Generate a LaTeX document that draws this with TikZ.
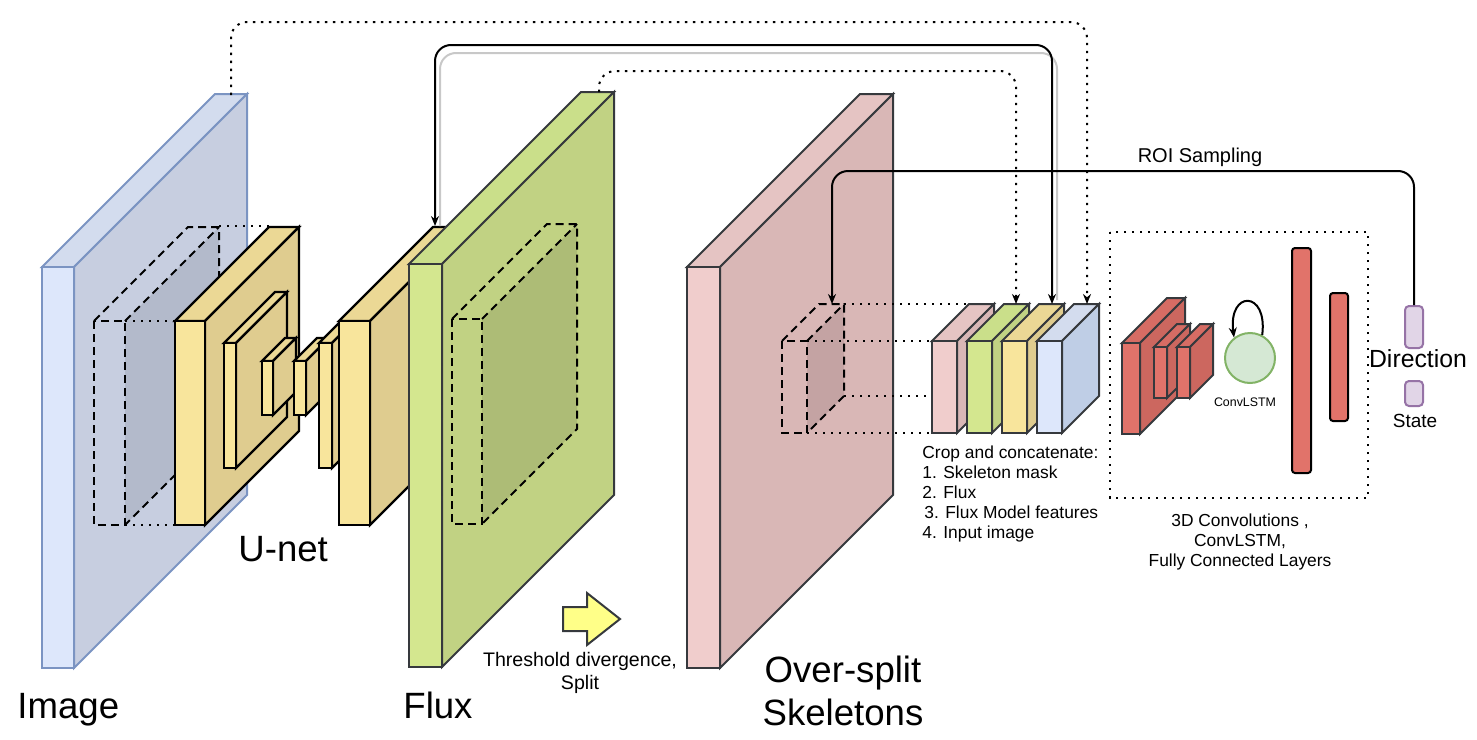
\documentclass[tikz,border=0pt]{standalone}
\usepackage{fontspec}
\setmainfont{Liberation Sans}
\usetikzlibrary{arrows.meta}
\usepackage{xcolor}

\definecolor{imgfront}{HTML}{DDE7FB}
\definecolor{imgside}{HTML}{C7CEE0}
\definecolor{imgtop}{HTML}{D3DCEE}
\definecolor{imgcrop}{HTML}{B3BACB}
\definecolor{imgstroke}{HTML}{7B94C2}
\definecolor{unetfront}{HTML}{F8E59C}
\definecolor{unetside}{HTML}{DFCC8F}
\definecolor{unettop}{HTML}{EBD895}
\definecolor{fluxfront}{HTML}{D4E78F}
\definecolor{fluxside}{HTML}{C1D283}
\definecolor{fluxtop}{HTML}{CADF8A}
\definecolor{fluxcrop}{HTML}{ADBC76}
\definecolor{skelfront}{HTML}{F0CDCC}
\definecolor{skelside}{HTML}{D9B7B6}
\definecolor{skeltop}{HTML}{E5C4C3}
\definecolor{skelcrop}{HTML}{C4A3A3}
\definecolor{cropblueside}{HTML}{BFCEE6}
\definecolor{convfront}{HTML}{E1736A}
\definecolor{convside}{HTML}{CC675F}
\definecolor{convtop}{HTML}{D66C64}
\definecolor{lstmfill}{HTML}{D5E8D4}
\definecolor{lstmstroke}{HTML}{82B366}
\definecolor{outfill}{HTML}{E1D5E7}
\definecolor{outstroke}{HTML}{9673A6}
\definecolor{darkstroke}{HTML}{36393D}
\definecolor{arrowyellow}{HTML}{FFFF88}
\definecolor{shadowgray}{HTML}{C8C8C8}

% layer block: [stroke]{x}{y}{width}{height}{depth}{front}{side}{top}
\newcommand{\layerblock}[9][]{%
  \draw[#1, fill=#9] (#2,#3) -- ++(#6,-#6) -- ++(#4,0) -- ++(-#6,#6) -- cycle;
  \draw[#1, fill=#8] (#2+#4,#3) -- ++(#6,-#6) -- ++(0,#5) -- ++(-#6,#6) -- cycle;
  \draw[#1, fill=#7] (#2,#3) rectangle ++(#4,#5);
}
% dashed crop frame: {x}{y}{width}{height}{depth}{side}
\newcommand{\cropframe}[6]{%
  \fill[#6] (#1+#3,#2) -- ++(#5,-#5) -- ++(0,#4) -- ++(-#5,#5) -- cycle;
  \draw[dashline] (#1,#2) rectangle ++(#3,#4);
  \draw[dashline] (#1,#2) -- ++(#5,-#5) -- ++(#3,0) -- ++(0,#4) -- ++(-#5,#5);
  \draw[dashline] (#1+#3,#2) -- ++(#5,-#5);
}

\begin{document}
\begin{tikzpicture}[
x=0.5pt, y=-0.5pt,
imgline/.style={draw=imgstroke, line width=1pt},
unetline/.style={draw=black, line width=1.1pt},
darkline/.style={draw=darkstroke, line width=1pt},
dashline/.style={line width=1pt, dash pattern=on 4pt off 2.5pt},
dotline/.style={line width=1.2pt, dash pattern=on 1.2pt off 2.8pt},
tip/.style={-{Stealth[length=5pt, width=4pt]}},
arrow/.style={tip, line width=1pt, rounded corners=8pt},
biglabel/.style={inner sep=0pt, font=\fontsize{18.3}{21.5}\selectfont},
textlabel/.style={inner sep=0pt, font=\fontsize{8.7}{10}\selectfont},
outbox/.style={draw=outstroke, fill=outfill, line width=1pt, rounded corners=2pt, minimum width=9pt, inner sep=0pt},
lstmcell/.style={circle, draw=lstmstroke, fill=lstmfill, line width=1pt, minimum size=25pt, inner sep=0pt}
]
\useasboundingbox (0,0) rectangle (1477,739);

% input image
\layerblock[imgline]{42}{267}{32}{401}{173}{imgfront}{imgside}{imgtop}
\cropframe{94}{321}{31}{204}{94}{imgcrop}
\draw[dotline] (219,226) -- (269,226);
\draw[dotline] (125,321) -- (175,321);
\draw[dotline] (125,525) -- (175,525);

% U-net
\layerblock[unetline]{175}{321}{30}{204}{94}{unetfront}{unetside}{unettop}
\layerblock[unetline]{224}{343}{12}{125}{51}{unetfront}{unetside}{unettop}
\layerblock[unetline]{262}{361}{11}{54}{23}{unetfront}{unetside}{unettop}
\layerblock[unetline]{294}{361}{12}{54}{23}{unetfront}{unetside}{unettop}
\layerblock[unetline]{319}{343}{13}{125}{20}{unetfront}{unetside}{unettop}
\layerblock[unetline]{339}{321}{31}{204}{94}{unetfront}{unetside}{unettop}

% flux
\layerblock[darkline]{409}{264}{33}{403}{172}{fluxfront}{fluxside}{fluxtop}
\cropframe{452}{319}{30}{205}{95}{fluxcrop}

% split step
\draw[darkline, fill=arrowyellow] (563,607) -- (587,607) -- (587,593) -- (620,619) -- (587,645) -- (587,631) -- (563,631) -- cycle;

% skeletons
\layerblock[darkline]{687}{267}{33}{401}{173}{skelfront}{skelside}{skeltop}
\cropframe{782}{341}{25}{92}{37}{skelcrop}

% crops
\draw[dotline] (844,304) -- (969,304);
\draw[dotline] (807,341) -- (932,341);
\draw[dotline] (844,396) -- (932,396);
\draw[dotline] (807,433) -- (932,433);
\foreach \i/\fr/\sd/\tp in {0/skelfront/skelside/skeltop, 1/fluxfront/fluxside/fluxtop, 2/unetfront/unetside/unettop, 3/imgfront/cropblueside/imgtop}
  \layerblock[darkline]{932+35*\i}{341}{25}{92}{37}{\fr}{\sd}{\tp};

% recurrent part
\draw[dotline] (1110,232) rectangle (1368,498);
\layerblock[darkline]{1122}{343}{18}{91}{45}{convfront}{convside}{convtop}
\layerblock[darkline]{1154}{347}{13}{51}{23}{convfront}{convside}{convtop}
\layerblock[darkline]{1177}{347}{13}{51}{23}{convfront}{convside}{convtop}
\node[lstmcell] (lstm) at (1250,358) {};
\draw[tip, line width=1pt] (lstm.62) .. controls (1268,290) and (1228,290) .. (lstm.128);
\draw[line width=1pt, fill=convfront, rounded corners=1.5pt] (1292,248) rectangle (1311,473);
\draw[line width=1pt, fill=convfront, rounded corners=1.5pt] (1330,293) rectangle (1348,421);
\node[outbox, minimum height=21pt] (dirvec) at (1414,327) {};
\node[outbox, minimum height=12.5pt] (statevec) at (1414,393.5) {};

% connectors
\coordinate (imgmid) at (231,95);
\coordinate (unetmid) at (435,226);
\coordinate (unetshadow) at (440,226);
\coordinate (fluxmid) at (599,92);
\coordinate (skelmark) at (832,304);
\coordinate (cropflux) at (1016,304);
\coordinate (cropunet) at (1052,304);
\coordinate (cropshadow) at (1057,300);
\coordinate (cropimg) at (1087,304);

\draw[dotline, arrow] (imgmid) -- ++(0,-73) -| (cropimg);
\draw[shadowgray, line width=1pt, rounded corners=8pt] (unetshadow) -- ++(0,-173) -| (cropshadow);
\draw[arrow, {Stealth[length=5pt, width=4pt]}-{Stealth[length=5pt, width=4pt]}] (unetmid) -- ++(0,-181) -| (cropunet);
\draw[dotline, arrow] (fluxmid) -- ++(0,-21) -| (cropflux);
\draw[arrow] (dirvec.north) -- ++(0,-134) -| (skelmark);

% labels (multi-line: base is the last line)
\node[biglabel, anchor=base west] (imagelabel) at (17,718) {Image};
\node[biglabel, anchor=base west] (unetlabel) at (238,561) {U-net};
\node[biglabel, anchor=base west] (fluxlabel) at (403,718) {Flux};
\node[biglabel, anchor=base, align=center] (skellabel) at (843,725) {Over-split\\Skeletons};
\node[inner sep=0pt, font=\fontsize{9.8}{11.5}\selectfont, anchor=base, align=center] (splitlabel) at (580,689) {Threshold divergence,\\Split};
\node[textlabel, anchor=base west, align=left] (croplabel) at (922,538) {Crop and concatenate:\\1. Skeleton mask\\2. Flux\\\hspace{1pt}3. Flux Model features\\4. Input image};
\node[inner sep=0pt, font=\fontsize{10}{12}\selectfont, anchor=base] (roilabel) at (1200,162) {ROI Sampling};
\node[textlabel, anchor=base, align=center] (rnnlabel) at (1240,566) {3D Convolutions ,\\ConvLSTM,\\Fully Connected Layers};
\node[inner sep=0pt, font=\fontsize{6.2}{7}\selectfont] (lstmlabel) at (1245,402) {ConvLSTM};
\node[inner sep=0pt, font=\fontsize{12.4}{14}\selectfont] (dirlabel) at (1418,359) {Direction};
\node[inner sep=0pt, font=\fontsize{9.5}{11}\selectfont] (statelabel) at (1415,421) {State};

\end{tikzpicture}
\end{document}
